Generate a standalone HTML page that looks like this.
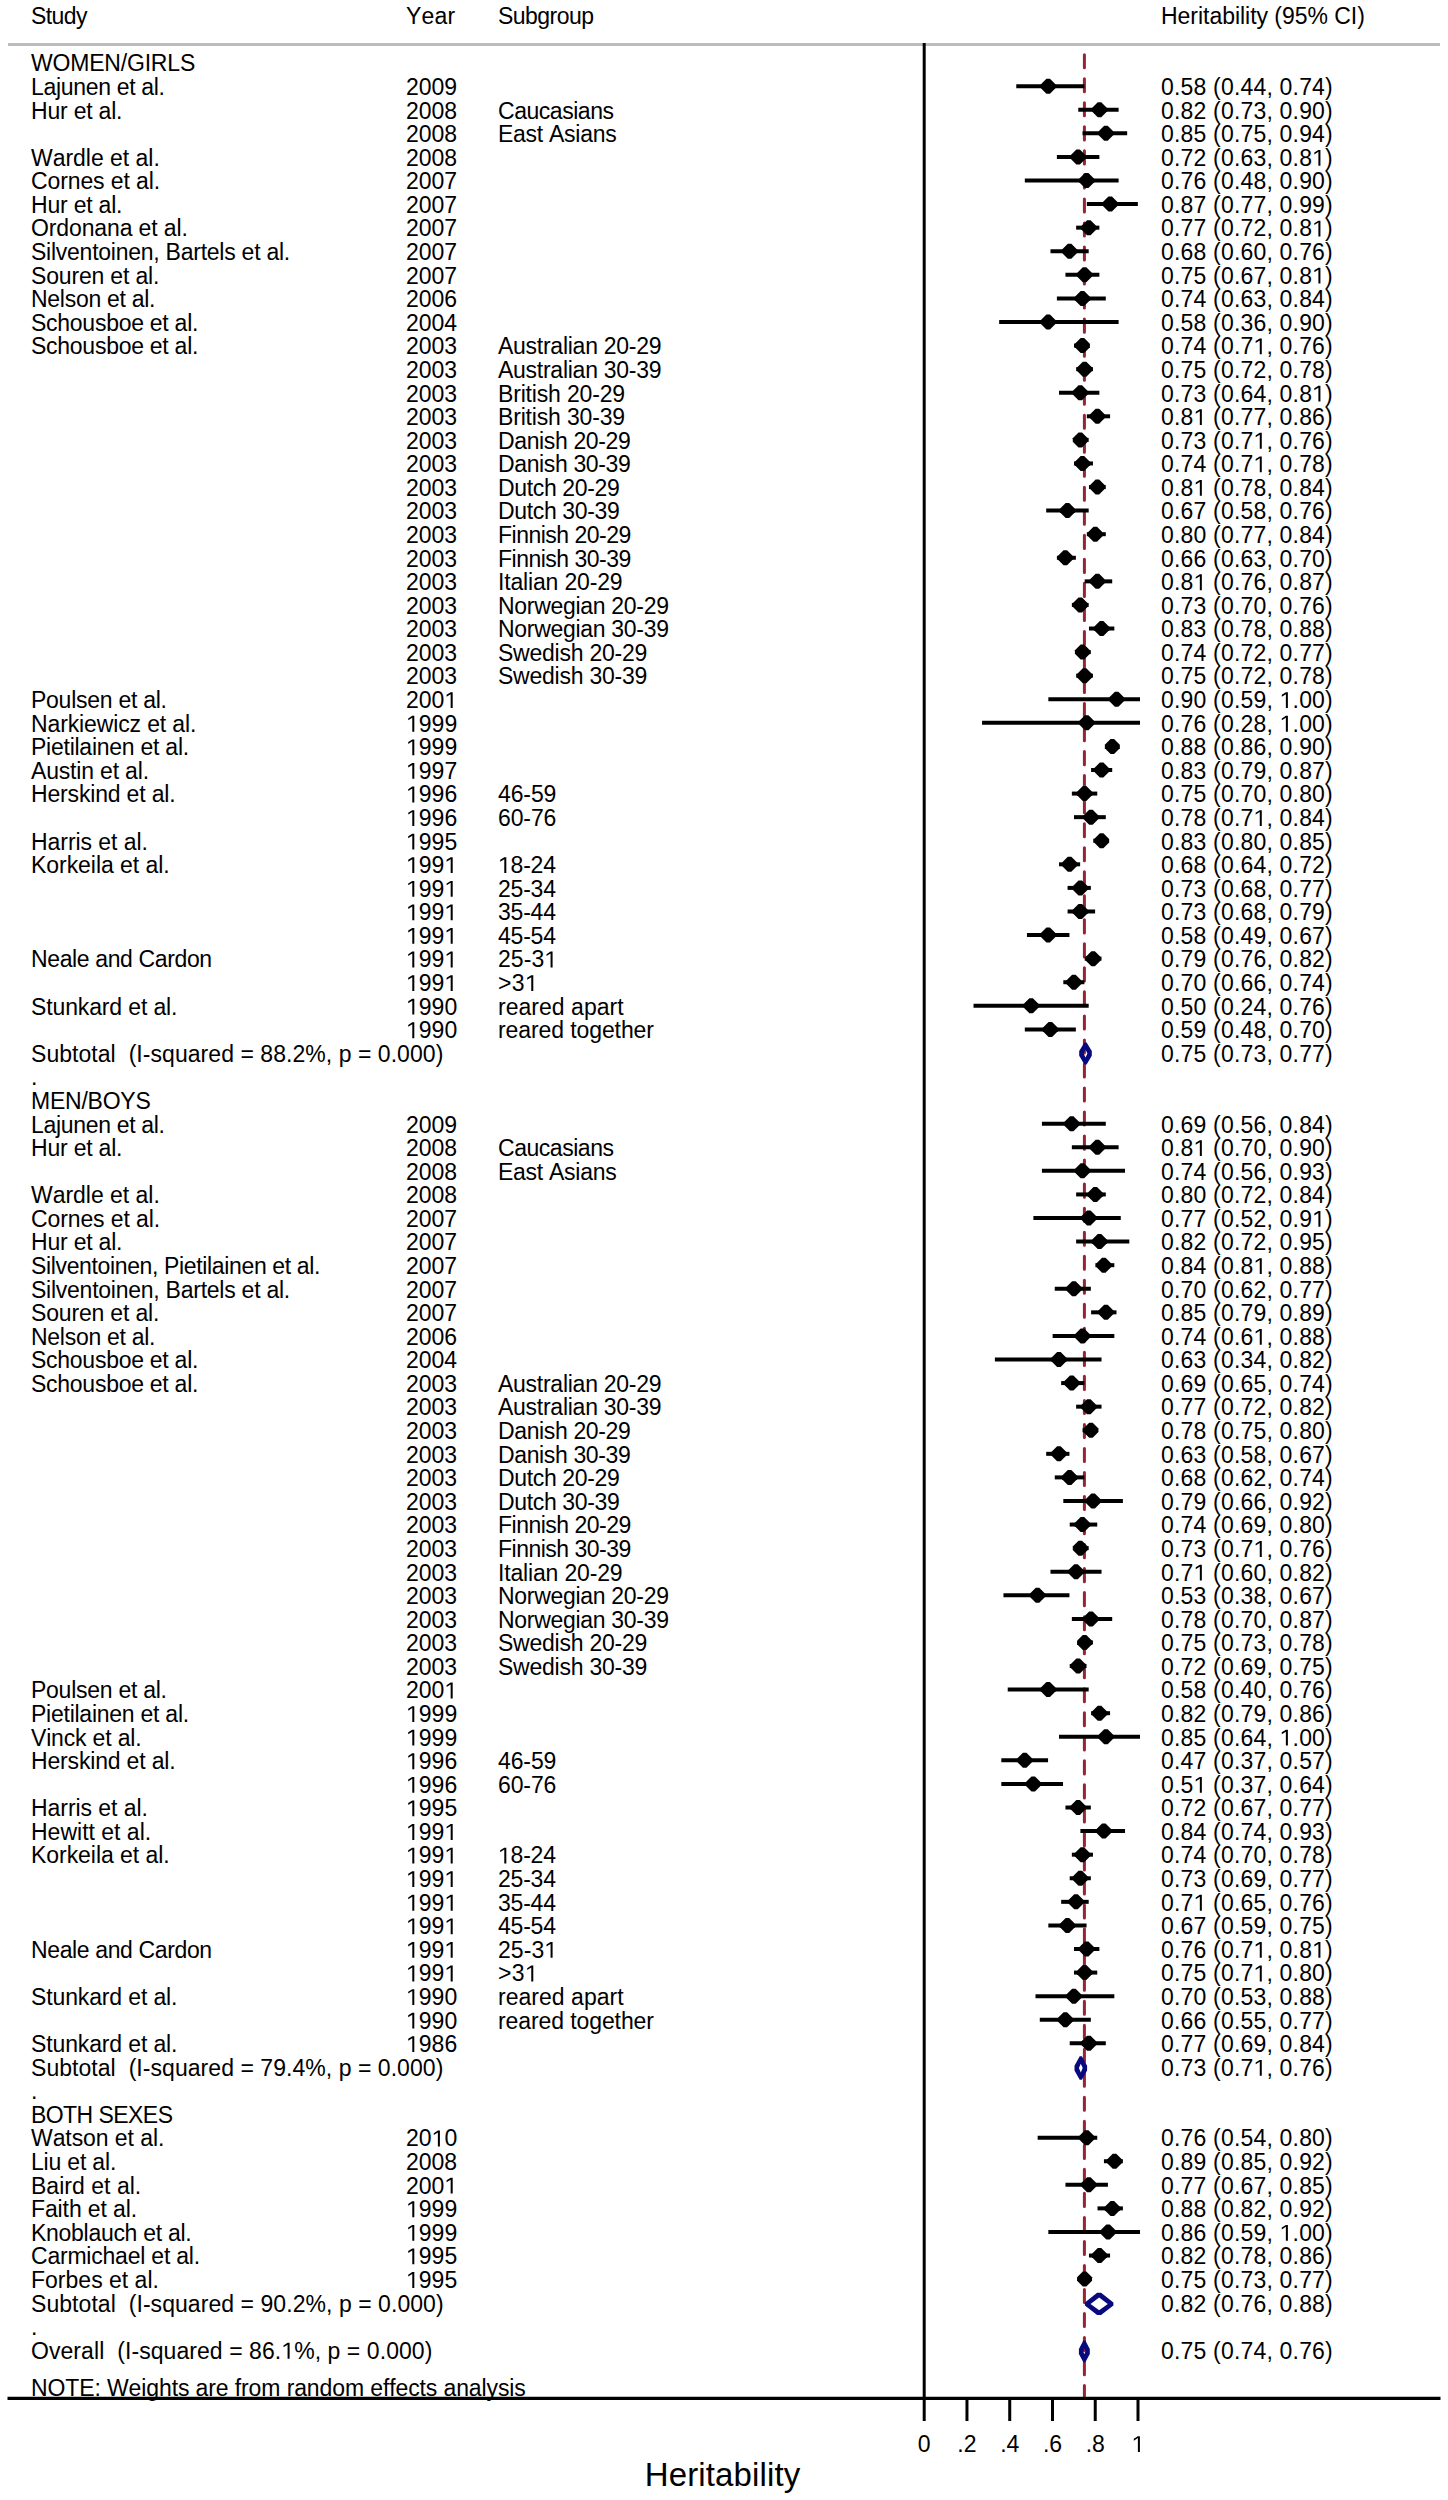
<!DOCTYPE html>
<html><head><meta charset="utf-8"><title>Forest plot</title>
<style>html,body{margin:0;padding:0;background:#fff;} body{width:1448px;height:2500px;overflow:hidden;font-family:"Liberation Sans",sans-serif;} svg{display:block;} .o{fill:transparent;}</style>
</head><body>
<svg width="1448" height="2500" viewBox="0 0 1448 2500">
<rect width="1448" height="2500" fill="#fff"/>
<line x1="8" y1="44.5" x2="1440" y2="44.5" stroke="#bcbcbc" stroke-width="3"/>
<line x1="924.2" y1="43" x2="924.2" y2="2398" stroke="#000" stroke-width="3"/>
<line x1="1084.4" y1="54.7" x2="1084.4" y2="2396" stroke="#952434" stroke-width="3" stroke-linecap="round" stroke-dasharray="13.1 10.93"/>
<g stroke="#000" stroke-width="4" stroke-linecap="square">
<line x1="1018.27" y1="86.18" x2="1082.41" y2="86.18"/>
<line x1="1080.27" y1="109.76" x2="1116.62" y2="109.76"/>
<line x1="1084.55" y1="133.34" x2="1125.17" y2="133.34"/>
<line x1="1058.89" y1="156.92" x2="1097.38" y2="156.92"/>
<line x1="1026.82" y1="180.50" x2="1116.62" y2="180.50"/>
<line x1="1088.83" y1="204.08" x2="1135.86" y2="204.08"/>
<line x1="1078.14" y1="227.66" x2="1097.38" y2="227.66"/>
<line x1="1052.48" y1="251.24" x2="1086.69" y2="251.24"/>
<line x1="1067.45" y1="274.82" x2="1097.38" y2="274.82"/>
<line x1="1058.89" y1="298.40" x2="1103.79" y2="298.40"/>
<line x1="1001.17" y1="321.98" x2="1116.62" y2="321.98"/>
<line x1="1076.00" y1="345.56" x2="1086.69" y2="345.56"/>
<line x1="1078.14" y1="369.14" x2="1090.96" y2="369.14"/>
<line x1="1061.03" y1="392.72" x2="1097.38" y2="392.72"/>
<line x1="1088.83" y1="416.30" x2="1108.07" y2="416.30"/>
<line x1="1076.00" y1="439.88" x2="1086.69" y2="439.88"/>
<line x1="1076.00" y1="463.46" x2="1090.96" y2="463.46"/>
<line x1="1090.96" y1="487.04" x2="1103.79" y2="487.04"/>
<line x1="1048.20" y1="510.62" x2="1086.69" y2="510.62"/>
<line x1="1088.83" y1="534.20" x2="1103.79" y2="534.20"/>
<line x1="1058.89" y1="557.78" x2="1073.86" y2="557.78"/>
<line x1="1086.69" y1="581.36" x2="1110.21" y2="581.36"/>
<line x1="1073.86" y1="604.94" x2="1086.69" y2="604.94"/>
<line x1="1090.96" y1="628.52" x2="1112.34" y2="628.52"/>
<line x1="1078.14" y1="652.10" x2="1088.83" y2="652.10"/>
<line x1="1078.14" y1="675.68" x2="1090.96" y2="675.68"/>
<line x1="1050.34" y1="699.26" x2="1138.00" y2="699.26"/>
<line x1="984.06" y1="722.84" x2="1138.00" y2="722.84"/>
<line x1="1108.07" y1="746.42" x2="1116.62" y2="746.42"/>
<line x1="1093.10" y1="770.00" x2="1110.21" y2="770.00"/>
<line x1="1073.86" y1="793.58" x2="1095.24" y2="793.58"/>
<line x1="1076.00" y1="817.16" x2="1103.79" y2="817.16"/>
<line x1="1095.24" y1="840.74" x2="1105.93" y2="840.74"/>
<line x1="1061.03" y1="864.32" x2="1078.14" y2="864.32"/>
<line x1="1069.58" y1="887.90" x2="1088.83" y2="887.90"/>
<line x1="1069.58" y1="911.48" x2="1093.10" y2="911.48"/>
<line x1="1028.96" y1="935.06" x2="1067.45" y2="935.06"/>
<line x1="1086.69" y1="958.64" x2="1099.52" y2="958.64"/>
<line x1="1065.31" y1="982.22" x2="1082.41" y2="982.22"/>
<line x1="975.51" y1="1005.80" x2="1086.69" y2="1005.80"/>
<line x1="1026.82" y1="1029.38" x2="1073.86" y2="1029.38"/>
<line x1="1043.93" y1="1123.70" x2="1103.79" y2="1123.70"/>
<line x1="1073.86" y1="1147.28" x2="1116.62" y2="1147.28"/>
<line x1="1043.93" y1="1170.86" x2="1123.03" y2="1170.86"/>
<line x1="1078.14" y1="1194.44" x2="1103.79" y2="1194.44"/>
<line x1="1035.38" y1="1218.02" x2="1118.76" y2="1218.02"/>
<line x1="1078.14" y1="1241.60" x2="1127.31" y2="1241.60"/>
<line x1="1097.38" y1="1265.18" x2="1112.34" y2="1265.18"/>
<line x1="1056.76" y1="1288.76" x2="1088.83" y2="1288.76"/>
<line x1="1093.10" y1="1312.34" x2="1114.48" y2="1312.34"/>
<line x1="1054.62" y1="1335.92" x2="1112.34" y2="1335.92"/>
<line x1="996.89" y1="1359.50" x2="1099.52" y2="1359.50"/>
<line x1="1063.17" y1="1383.08" x2="1082.41" y2="1383.08"/>
<line x1="1078.14" y1="1406.66" x2="1099.52" y2="1406.66"/>
<line x1="1084.55" y1="1430.24" x2="1095.24" y2="1430.24"/>
<line x1="1048.20" y1="1453.82" x2="1067.45" y2="1453.82"/>
<line x1="1056.76" y1="1477.40" x2="1082.41" y2="1477.40"/>
<line x1="1065.31" y1="1500.98" x2="1120.90" y2="1500.98"/>
<line x1="1071.72" y1="1524.56" x2="1095.24" y2="1524.56"/>
<line x1="1076.00" y1="1548.14" x2="1086.69" y2="1548.14"/>
<line x1="1052.48" y1="1571.72" x2="1099.52" y2="1571.72"/>
<line x1="1005.44" y1="1595.30" x2="1067.45" y2="1595.30"/>
<line x1="1073.86" y1="1618.88" x2="1110.21" y2="1618.88"/>
<line x1="1080.27" y1="1642.46" x2="1090.96" y2="1642.46"/>
<line x1="1071.72" y1="1666.04" x2="1084.55" y2="1666.04"/>
<line x1="1009.72" y1="1689.62" x2="1086.69" y2="1689.62"/>
<line x1="1093.10" y1="1713.20" x2="1108.07" y2="1713.20"/>
<line x1="1061.03" y1="1736.78" x2="1138.00" y2="1736.78"/>
<line x1="1003.31" y1="1760.36" x2="1046.07" y2="1760.36"/>
<line x1="1003.31" y1="1783.94" x2="1061.03" y2="1783.94"/>
<line x1="1067.45" y1="1807.52" x2="1088.83" y2="1807.52"/>
<line x1="1082.41" y1="1831.10" x2="1123.03" y2="1831.10"/>
<line x1="1073.86" y1="1854.68" x2="1090.96" y2="1854.68"/>
<line x1="1071.72" y1="1878.26" x2="1088.83" y2="1878.26"/>
<line x1="1063.17" y1="1901.84" x2="1086.69" y2="1901.84"/>
<line x1="1050.34" y1="1925.42" x2="1084.55" y2="1925.42"/>
<line x1="1076.00" y1="1949.00" x2="1097.38" y2="1949.00"/>
<line x1="1076.00" y1="1972.58" x2="1095.24" y2="1972.58"/>
<line x1="1037.51" y1="1996.16" x2="1112.34" y2="1996.16"/>
<line x1="1041.79" y1="2019.74" x2="1088.83" y2="2019.74"/>
<line x1="1071.72" y1="2043.32" x2="1103.79" y2="2043.32"/>
<line x1="1039.65" y1="2137.64" x2="1095.24" y2="2137.64"/>
<line x1="1105.93" y1="2161.22" x2="1120.90" y2="2161.22"/>
<line x1="1067.45" y1="2184.80" x2="1105.93" y2="2184.80"/>
<line x1="1099.52" y1="2208.38" x2="1120.90" y2="2208.38"/>
<line x1="1050.34" y1="2231.96" x2="1138.00" y2="2231.96"/>
<line x1="1090.96" y1="2255.54" x2="1108.07" y2="2255.54"/>
<line x1="1080.27" y1="2279.12" x2="1088.83" y2="2279.12"/>
</g>
<g fill="#000">
<polygon points="1046.45,78.68 1049.95,78.68 1055.70,84.43 1055.70,87.93 1049.95,93.68 1046.45,93.68 1040.70,87.93 1040.70,84.43"/>
<polygon points="1097.77,102.26 1101.27,102.26 1107.02,108.01 1107.02,111.51 1101.27,117.26 1097.77,117.26 1092.02,111.51 1092.02,108.01"/>
<polygon points="1104.18,125.84 1107.68,125.84 1113.43,131.59 1113.43,135.09 1107.68,140.84 1104.18,140.84 1098.43,135.09 1098.43,131.59"/>
<polygon points="1076.39,149.42 1079.89,149.42 1085.64,155.17 1085.64,158.67 1079.89,164.42 1076.39,164.42 1070.64,158.67 1070.64,155.17"/>
<polygon points="1084.94,173.00 1088.44,173.00 1094.19,178.75 1094.19,182.25 1088.44,188.00 1084.94,188.00 1079.19,182.25 1079.19,178.75"/>
<polygon points="1108.46,196.58 1111.96,196.58 1117.71,202.33 1117.71,205.83 1111.96,211.58 1108.46,211.58 1102.71,205.83 1102.71,202.33"/>
<polygon points="1087.08,220.16 1090.58,220.16 1096.33,225.91 1096.33,229.41 1090.58,235.16 1087.08,235.16 1081.33,229.41 1081.33,225.91"/>
<polygon points="1067.83,243.74 1071.33,243.74 1077.08,249.49 1077.08,252.99 1071.33,258.74 1067.83,258.74 1062.08,252.99 1062.08,249.49"/>
<polygon points="1082.80,267.32 1086.30,267.32 1092.05,273.07 1092.05,276.57 1086.30,282.32 1082.80,282.32 1077.05,276.57 1077.05,273.07"/>
<polygon points="1080.66,290.90 1084.16,290.90 1089.91,296.65 1089.91,300.15 1084.16,305.90 1080.66,305.90 1074.91,300.15 1074.91,296.65"/>
<polygon points="1046.45,314.48 1049.95,314.48 1055.70,320.23 1055.70,323.73 1049.95,329.48 1046.45,329.48 1040.70,323.73 1040.70,320.23"/>
<polygon points="1080.66,338.06 1084.16,338.06 1089.91,343.81 1089.91,347.31 1084.16,353.06 1080.66,353.06 1074.91,347.31 1074.91,343.81"/>
<polygon points="1082.80,361.64 1086.30,361.64 1092.05,367.39 1092.05,370.89 1086.30,376.64 1082.80,376.64 1077.05,370.89 1077.05,367.39"/>
<polygon points="1078.52,385.22 1082.02,385.22 1087.77,390.97 1087.77,394.47 1082.02,400.22 1078.52,400.22 1072.77,394.47 1072.77,390.97"/>
<polygon points="1095.63,408.80 1099.13,408.80 1104.88,414.55 1104.88,418.05 1099.13,423.80 1095.63,423.80 1089.88,418.05 1089.88,414.55"/>
<polygon points="1078.52,432.38 1082.02,432.38 1087.77,438.13 1087.77,441.63 1082.02,447.38 1078.52,447.38 1072.77,441.63 1072.77,438.13"/>
<polygon points="1080.66,455.96 1084.16,455.96 1089.91,461.71 1089.91,465.21 1084.16,470.96 1080.66,470.96 1074.91,465.21 1074.91,461.71"/>
<polygon points="1095.63,479.54 1099.13,479.54 1104.88,485.29 1104.88,488.79 1099.13,494.54 1095.63,494.54 1089.88,488.79 1089.88,485.29"/>
<polygon points="1065.70,503.12 1069.20,503.12 1074.95,508.87 1074.95,512.37 1069.20,518.12 1065.70,518.12 1059.95,512.37 1059.95,508.87"/>
<polygon points="1093.49,526.70 1096.99,526.70 1102.74,532.45 1102.74,535.95 1096.99,541.70 1093.49,541.70 1087.74,535.95 1087.74,532.45"/>
<polygon points="1063.56,550.28 1067.06,550.28 1072.81,556.03 1072.81,559.53 1067.06,565.28 1063.56,565.28 1057.81,559.53 1057.81,556.03"/>
<polygon points="1095.63,573.86 1099.13,573.86 1104.88,579.61 1104.88,583.11 1099.13,588.86 1095.63,588.86 1089.88,583.11 1089.88,579.61"/>
<polygon points="1078.52,597.44 1082.02,597.44 1087.77,603.19 1087.77,606.69 1082.02,612.44 1078.52,612.44 1072.77,606.69 1072.77,603.19"/>
<polygon points="1099.90,621.02 1103.40,621.02 1109.15,626.77 1109.15,630.27 1103.40,636.02 1099.90,636.02 1094.15,630.27 1094.15,626.77"/>
<polygon points="1080.66,644.60 1084.16,644.60 1089.91,650.35 1089.91,653.85 1084.16,659.60 1080.66,659.60 1074.91,653.85 1074.91,650.35"/>
<polygon points="1082.80,668.18 1086.30,668.18 1092.05,673.93 1092.05,677.43 1086.30,683.18 1082.80,683.18 1077.05,677.43 1077.05,673.93"/>
<polygon points="1114.87,691.76 1118.37,691.76 1124.12,697.51 1124.12,701.01 1118.37,706.76 1114.87,706.76 1109.12,701.01 1109.12,697.51"/>
<polygon points="1084.94,715.34 1088.44,715.34 1094.19,721.09 1094.19,724.59 1088.44,730.34 1084.94,730.34 1079.19,724.59 1079.19,721.09"/>
<polygon points="1110.59,738.92 1114.09,738.92 1119.84,744.67 1119.84,748.17 1114.09,753.92 1110.59,753.92 1104.84,748.17 1104.84,744.67"/>
<polygon points="1099.90,762.50 1103.40,762.50 1109.15,768.25 1109.15,771.75 1103.40,777.50 1099.90,777.50 1094.15,771.75 1094.15,768.25"/>
<polygon points="1082.80,786.08 1086.30,786.08 1092.05,791.83 1092.05,795.33 1086.30,801.08 1082.80,801.08 1077.05,795.33 1077.05,791.83"/>
<polygon points="1089.21,809.66 1092.71,809.66 1098.46,815.41 1098.46,818.91 1092.71,824.66 1089.21,824.66 1083.46,818.91 1083.46,815.41"/>
<polygon points="1099.90,833.24 1103.40,833.24 1109.15,838.99 1109.15,842.49 1103.40,848.24 1099.90,848.24 1094.15,842.49 1094.15,838.99"/>
<polygon points="1067.83,856.82 1071.33,856.82 1077.08,862.57 1077.08,866.07 1071.33,871.82 1067.83,871.82 1062.08,866.07 1062.08,862.57"/>
<polygon points="1078.52,880.40 1082.02,880.40 1087.77,886.15 1087.77,889.65 1082.02,895.40 1078.52,895.40 1072.77,889.65 1072.77,886.15"/>
<polygon points="1078.52,903.98 1082.02,903.98 1087.77,909.73 1087.77,913.23 1082.02,918.98 1078.52,918.98 1072.77,913.23 1072.77,909.73"/>
<polygon points="1046.45,927.56 1049.95,927.56 1055.70,933.31 1055.70,936.81 1049.95,942.56 1046.45,942.56 1040.70,936.81 1040.70,933.31"/>
<polygon points="1091.35,951.14 1094.85,951.14 1100.60,956.89 1100.60,960.39 1094.85,966.14 1091.35,966.14 1085.60,960.39 1085.60,956.89"/>
<polygon points="1072.11,974.72 1075.61,974.72 1081.36,980.47 1081.36,983.97 1075.61,989.72 1072.11,989.72 1066.36,983.97 1066.36,980.47"/>
<polygon points="1029.35,998.30 1032.85,998.30 1038.60,1004.05 1038.60,1007.55 1032.85,1013.30 1029.35,1013.30 1023.60,1007.55 1023.60,1004.05"/>
<polygon points="1048.59,1021.88 1052.09,1021.88 1057.84,1027.63 1057.84,1031.13 1052.09,1036.88 1048.59,1036.88 1042.84,1031.13 1042.84,1027.63"/>
<polygon points="1069.97,1116.20 1073.47,1116.20 1079.22,1121.95 1079.22,1125.45 1073.47,1131.20 1069.97,1131.20 1064.22,1125.45 1064.22,1121.95"/>
<polygon points="1095.63,1139.78 1099.13,1139.78 1104.88,1145.53 1104.88,1149.03 1099.13,1154.78 1095.63,1154.78 1089.88,1149.03 1089.88,1145.53"/>
<polygon points="1080.66,1163.36 1084.16,1163.36 1089.91,1169.11 1089.91,1172.61 1084.16,1178.36 1080.66,1178.36 1074.91,1172.61 1074.91,1169.11"/>
<polygon points="1093.49,1186.94 1096.99,1186.94 1102.74,1192.69 1102.74,1196.19 1096.99,1201.94 1093.49,1201.94 1087.74,1196.19 1087.74,1192.69"/>
<polygon points="1087.08,1210.52 1090.58,1210.52 1096.33,1216.27 1096.33,1219.77 1090.58,1225.52 1087.08,1225.52 1081.33,1219.77 1081.33,1216.27"/>
<polygon points="1097.77,1234.10 1101.27,1234.10 1107.02,1239.85 1107.02,1243.35 1101.27,1249.10 1097.77,1249.10 1092.02,1243.35 1092.02,1239.85"/>
<polygon points="1102.04,1257.68 1105.54,1257.68 1111.29,1263.43 1111.29,1266.93 1105.54,1272.68 1102.04,1272.68 1096.29,1266.93 1096.29,1263.43"/>
<polygon points="1072.11,1281.26 1075.61,1281.26 1081.36,1287.01 1081.36,1290.51 1075.61,1296.26 1072.11,1296.26 1066.36,1290.51 1066.36,1287.01"/>
<polygon points="1104.18,1304.84 1107.68,1304.84 1113.43,1310.59 1113.43,1314.09 1107.68,1319.84 1104.18,1319.84 1098.43,1314.09 1098.43,1310.59"/>
<polygon points="1080.66,1328.42 1084.16,1328.42 1089.91,1334.17 1089.91,1337.67 1084.16,1343.42 1080.66,1343.42 1074.91,1337.67 1074.91,1334.17"/>
<polygon points="1057.14,1352.00 1060.64,1352.00 1066.39,1357.75 1066.39,1361.25 1060.64,1367.00 1057.14,1367.00 1051.39,1361.25 1051.39,1357.75"/>
<polygon points="1069.97,1375.58 1073.47,1375.58 1079.22,1381.33 1079.22,1384.83 1073.47,1390.58 1069.97,1390.58 1064.22,1384.83 1064.22,1381.33"/>
<polygon points="1087.08,1399.16 1090.58,1399.16 1096.33,1404.91 1096.33,1408.41 1090.58,1414.16 1087.08,1414.16 1081.33,1408.41 1081.33,1404.91"/>
<polygon points="1089.21,1422.74 1092.71,1422.74 1098.46,1428.49 1098.46,1431.99 1092.71,1437.74 1089.21,1437.74 1083.46,1431.99 1083.46,1428.49"/>
<polygon points="1057.14,1446.32 1060.64,1446.32 1066.39,1452.07 1066.39,1455.57 1060.64,1461.32 1057.14,1461.32 1051.39,1455.57 1051.39,1452.07"/>
<polygon points="1067.83,1469.90 1071.33,1469.90 1077.08,1475.65 1077.08,1479.15 1071.33,1484.90 1067.83,1484.90 1062.08,1479.15 1062.08,1475.65"/>
<polygon points="1091.35,1493.48 1094.85,1493.48 1100.60,1499.23 1100.60,1502.73 1094.85,1508.48 1091.35,1508.48 1085.60,1502.73 1085.60,1499.23"/>
<polygon points="1080.66,1517.06 1084.16,1517.06 1089.91,1522.81 1089.91,1526.31 1084.16,1532.06 1080.66,1532.06 1074.91,1526.31 1074.91,1522.81"/>
<polygon points="1078.52,1540.64 1082.02,1540.64 1087.77,1546.39 1087.77,1549.89 1082.02,1555.64 1078.52,1555.64 1072.77,1549.89 1072.77,1546.39"/>
<polygon points="1074.25,1564.22 1077.75,1564.22 1083.50,1569.97 1083.50,1573.47 1077.75,1579.22 1074.25,1579.22 1068.50,1573.47 1068.50,1569.97"/>
<polygon points="1035.76,1587.80 1039.26,1587.80 1045.01,1593.55 1045.01,1597.05 1039.26,1602.80 1035.76,1602.80 1030.01,1597.05 1030.01,1593.55"/>
<polygon points="1089.21,1611.38 1092.71,1611.38 1098.46,1617.13 1098.46,1620.63 1092.71,1626.38 1089.21,1626.38 1083.46,1620.63 1083.46,1617.13"/>
<polygon points="1082.80,1634.96 1086.30,1634.96 1092.05,1640.71 1092.05,1644.21 1086.30,1649.96 1082.80,1649.96 1077.05,1644.21 1077.05,1640.71"/>
<polygon points="1076.39,1658.54 1079.89,1658.54 1085.64,1664.29 1085.64,1667.79 1079.89,1673.54 1076.39,1673.54 1070.64,1667.79 1070.64,1664.29"/>
<polygon points="1046.45,1682.12 1049.95,1682.12 1055.70,1687.87 1055.70,1691.37 1049.95,1697.12 1046.45,1697.12 1040.70,1691.37 1040.70,1687.87"/>
<polygon points="1097.77,1705.70 1101.27,1705.70 1107.02,1711.45 1107.02,1714.95 1101.27,1720.70 1097.77,1720.70 1092.02,1714.95 1092.02,1711.45"/>
<polygon points="1104.18,1729.28 1107.68,1729.28 1113.43,1735.03 1113.43,1738.53 1107.68,1744.28 1104.18,1744.28 1098.43,1738.53 1098.43,1735.03"/>
<polygon points="1022.94,1752.86 1026.44,1752.86 1032.19,1758.61 1032.19,1762.11 1026.44,1767.86 1022.94,1767.86 1017.19,1762.11 1017.19,1758.61"/>
<polygon points="1031.49,1776.44 1034.99,1776.44 1040.74,1782.19 1040.74,1785.69 1034.99,1791.44 1031.49,1791.44 1025.74,1785.69 1025.74,1782.19"/>
<polygon points="1076.39,1800.02 1079.89,1800.02 1085.64,1805.77 1085.64,1809.27 1079.89,1815.02 1076.39,1815.02 1070.64,1809.27 1070.64,1805.77"/>
<polygon points="1102.04,1823.60 1105.54,1823.60 1111.29,1829.35 1111.29,1832.85 1105.54,1838.60 1102.04,1838.60 1096.29,1832.85 1096.29,1829.35"/>
<polygon points="1080.66,1847.18 1084.16,1847.18 1089.91,1852.93 1089.91,1856.43 1084.16,1862.18 1080.66,1862.18 1074.91,1856.43 1074.91,1852.93"/>
<polygon points="1078.52,1870.76 1082.02,1870.76 1087.77,1876.51 1087.77,1880.01 1082.02,1885.76 1078.52,1885.76 1072.77,1880.01 1072.77,1876.51"/>
<polygon points="1074.25,1894.34 1077.75,1894.34 1083.50,1900.09 1083.50,1903.59 1077.75,1909.34 1074.25,1909.34 1068.50,1903.59 1068.50,1900.09"/>
<polygon points="1065.70,1917.92 1069.20,1917.92 1074.95,1923.67 1074.95,1927.17 1069.20,1932.92 1065.70,1932.92 1059.95,1927.17 1059.95,1923.67"/>
<polygon points="1084.94,1941.50 1088.44,1941.50 1094.19,1947.25 1094.19,1950.75 1088.44,1956.50 1084.94,1956.50 1079.19,1950.75 1079.19,1947.25"/>
<polygon points="1082.80,1965.08 1086.30,1965.08 1092.05,1970.83 1092.05,1974.33 1086.30,1980.08 1082.80,1980.08 1077.05,1974.33 1077.05,1970.83"/>
<polygon points="1072.11,1988.66 1075.61,1988.66 1081.36,1994.41 1081.36,1997.91 1075.61,2003.66 1072.11,2003.66 1066.36,1997.91 1066.36,1994.41"/>
<polygon points="1063.56,2012.24 1067.06,2012.24 1072.81,2017.99 1072.81,2021.49 1067.06,2027.24 1063.56,2027.24 1057.81,2021.49 1057.81,2017.99"/>
<polygon points="1087.08,2035.82 1090.58,2035.82 1096.33,2041.57 1096.33,2045.07 1090.58,2050.82 1087.08,2050.82 1081.33,2045.07 1081.33,2041.57"/>
<polygon points="1084.94,2130.14 1088.44,2130.14 1094.19,2135.89 1094.19,2139.39 1088.44,2145.14 1084.94,2145.14 1079.19,2139.39 1079.19,2135.89"/>
<polygon points="1112.73,2153.72 1116.23,2153.72 1121.98,2159.47 1121.98,2162.97 1116.23,2168.72 1112.73,2168.72 1106.98,2162.97 1106.98,2159.47"/>
<polygon points="1087.08,2177.30 1090.58,2177.30 1096.33,2183.05 1096.33,2186.55 1090.58,2192.30 1087.08,2192.30 1081.33,2186.55 1081.33,2183.05"/>
<polygon points="1110.59,2200.88 1114.09,2200.88 1119.84,2206.63 1119.84,2210.13 1114.09,2215.88 1110.59,2215.88 1104.84,2210.13 1104.84,2206.63"/>
<polygon points="1106.32,2224.46 1109.82,2224.46 1115.57,2230.21 1115.57,2233.71 1109.82,2239.46 1106.32,2239.46 1100.57,2233.71 1100.57,2230.21"/>
<polygon points="1097.77,2248.04 1101.27,2248.04 1107.02,2253.79 1107.02,2257.29 1101.27,2263.04 1097.77,2263.04 1092.02,2257.29 1092.02,2253.79"/>
<polygon points="1082.80,2271.62 1086.30,2271.62 1092.05,2277.37 1092.05,2280.87 1086.30,2286.62 1082.80,2286.62 1077.05,2280.87 1077.05,2277.37"/>
</g>
<g fill="#08087f" fill-rule="evenodd">
<path d="M1084.40,1042.40 L1086.60,1042.40 L1091.80,1051.05 L1091.80,1055.75 L1086.60,1064.40 L1084.40,1064.40 L1079.20,1055.75 L1079.20,1051.05Z M1083.62,1053.40 L1085.50,1049.42 L1087.38,1053.40 L1085.50,1057.38Z"/>
<path d="M1079.70,2056.30 L1081.90,2056.30 L1087.10,2065.70 L1087.10,2070.40 L1081.90,2079.80 L1079.70,2079.80 L1074.50,2070.40 L1074.50,2065.70Z M1078.89,2068.05 L1080.80,2063.66 L1082.71,2068.05 L1080.80,2072.44Z"/>
<path d="M1097.10,2292.80 L1101.10,2292.80 L1113.40,2302.40 L1113.40,2305.40 L1101.10,2315.00 L1097.10,2315.00 L1084.90,2305.40 L1084.90,2302.40Z M1090.53,2303.90 L1099.15,2297.51 L1107.77,2303.90 L1099.15,2310.29Z"/>
<path d="M1083.35,2340.60 L1085.35,2340.60 L1089.80,2348.95 L1089.80,2353.95 L1085.35,2362.30 L1083.35,2362.30 L1078.90,2353.95 L1078.90,2348.95Z M1083.25,2351.45 L1084.35,2348.57 L1085.45,2351.45 L1084.35,2354.33Z"/>
</g>
<line x1="7.5" y1="2398.3" x2="1440.5" y2="2398.3" stroke="#000" stroke-width="3.3"/>
<g stroke="#000" stroke-width="3">
<line x1="924.20" y1="2398" x2="924.20" y2="2421"/>
<line x1="966.96" y1="2398" x2="966.96" y2="2421"/>
<line x1="1009.72" y1="2398" x2="1009.72" y2="2421"/>
<line x1="1052.48" y1="2398" x2="1052.48" y2="2421"/>
<line x1="1095.24" y1="2398" x2="1095.24" y2="2421"/>
<line x1="1138.00" y1="2398" x2="1138.00" y2="2421"/>
</g>
<g font-family="Liberation Sans" font-size="23" fill="#000" xml:space="preserve" style="font-kerning:none">
<text id="t0" x="31" y="23.80" textLength="56.58" lengthAdjust="spacing">Study</text>
<text id="t1" x="406" y="23.80" textLength="49.25" lengthAdjust="spacing">Year</text>
<text id="t2" x="498" y="23.80" textLength="95.96" lengthAdjust="spacing">Subgroup</text>
<text id="t3" x="1161" y="23.80" textLength="203.81" lengthAdjust="spacing">Heritability (95% CI)</text>
<text id="t4" x="31" y="71.40" textLength="164.25" lengthAdjust="spacing">WOMEN/GIRLS</text>
<text id="t5" x="31" y="94.98" textLength="134.00" lengthAdjust="spacing">Lajunen et al.</text>
<text id="t6" x="406" y="94.98">2009</text>
<text id="t7" x="1161" y="94.98" textLength="171.76" lengthAdjust="spacing">0.58 (0.44, 0.74)</text>
<text id="t8" x="31" y="118.56" textLength="91.46" lengthAdjust="spacing">Hur et al.</text>
<text id="t9" x="406" y="118.56">2008</text>
<text id="t10" x="498" y="118.56" textLength="115.98" lengthAdjust="spacing">Caucasians</text>
<text id="t11" x="1161" y="118.56" textLength="171.76" lengthAdjust="spacing">0.82 (0.73, 0.90)</text>
<text id="t12" x="406" y="142.14">2008</text>
<text id="t13" x="498" y="142.14" textLength="118.70" lengthAdjust="spacing">East Asians</text>
<text id="t14" x="1161" y="142.14" textLength="171.76" lengthAdjust="spacing">0.85 (0.75, 0.94)</text>
<text id="t15" x="31" y="165.72" textLength="128.80" lengthAdjust="spacing">Wardle et al.</text>
<text id="t16" x="406" y="165.72">2008</text>
<text id="t17" x="1161" y="165.72" textLength="171.76" lengthAdjust="spacing">0.72 (0.63, 0.8<tspan class="o">1</tspan>)</text>
<text id="t18" x="31" y="189.30" textLength="129.02" lengthAdjust="spacing">Cornes et al.</text>
<text id="t19" x="406" y="189.30">2007</text>
<text id="t20" x="1161" y="189.30" textLength="171.76" lengthAdjust="spacing">0.76 (0.48, 0.90)</text>
<text id="t21" x="31" y="212.88" textLength="91.46" lengthAdjust="spacing">Hur et al.</text>
<text id="t22" x="406" y="212.88">2007</text>
<text id="t23" x="1161" y="212.88" textLength="171.76" lengthAdjust="spacing">0.87 (0.77, 0.99)</text>
<text id="t24" x="31" y="236.46" textLength="156.83" lengthAdjust="spacing">Ordonana et al.</text>
<text id="t25" x="406" y="236.46">2007</text>
<text id="t26" x="1161" y="236.46" textLength="171.76" lengthAdjust="spacing">0.77 (0.72, 0.8<tspan class="o">1</tspan>)</text>
<text id="t27" x="31" y="260.04" textLength="259.20" lengthAdjust="spacing">Silventoinen, Bartels et al.</text>
<text id="t28" x="406" y="260.04">2007</text>
<text id="t29" x="1161" y="260.04" textLength="171.76" lengthAdjust="spacing">0.68 (0.60, 0.76)</text>
<text id="t30" x="31" y="283.62" textLength="128.36" lengthAdjust="spacing">Souren et al.</text>
<text id="t31" x="406" y="283.62">2007</text>
<text id="t32" x="1161" y="283.62" textLength="171.76" lengthAdjust="spacing">0.75 (0.67, 0.8<tspan class="o">1</tspan>)</text>
<text id="t33" x="31" y="307.20" textLength="124.41" lengthAdjust="spacing">Nelson et al.</text>
<text id="t34" x="406" y="307.20">2006</text>
<text id="t35" x="1161" y="307.20" textLength="171.76" lengthAdjust="spacing">0.74 (0.63, 0.84)</text>
<text id="t36" x="31" y="330.78" textLength="167.40" lengthAdjust="spacing">Schousboe et al.</text>
<text id="t37" x="406" y="330.78">2004</text>
<text id="t38" x="1161" y="330.78" textLength="171.76" lengthAdjust="spacing">0.58 (0.36, 0.90)</text>
<text id="t39" x="31" y="354.36" textLength="167.40" lengthAdjust="spacing">Schousboe et al.</text>
<text id="t40" x="406" y="354.36">2003</text>
<text id="t41" x="498" y="354.36" textLength="163.56" lengthAdjust="spacing">Australian 20-29</text>
<text id="t42" x="1161" y="354.36" textLength="171.76" lengthAdjust="spacing">0.74 (0.7<tspan class="o">1</tspan>, 0.76)</text>
<text id="t43" x="406" y="377.94">2003</text>
<text id="t44" x="498" y="377.94" textLength="163.56" lengthAdjust="spacing">Australian 30-39</text>
<text id="t45" x="1161" y="377.94" textLength="171.76" lengthAdjust="spacing">0.75 (0.72, 0.78)</text>
<text id="t46" x="406" y="401.52">2003</text>
<text id="t47" x="498" y="401.52" textLength="127.05" lengthAdjust="spacing">British 20-29</text>
<text id="t48" x="1161" y="401.52" textLength="171.76" lengthAdjust="spacing">0.73 (0.64, 0.8<tspan class="o">1</tspan>)</text>
<text id="t49" x="406" y="425.10">2003</text>
<text id="t50" x="498" y="425.10" textLength="127.05" lengthAdjust="spacing">British 30-39</text>
<text id="t51" x="1161" y="425.10" textLength="171.76" lengthAdjust="spacing">0.8<tspan class="o">1</tspan> (0.77, 0.86)</text>
<text id="t52" x="406" y="448.68">2003</text>
<text id="t53" x="498" y="448.68" textLength="132.75" lengthAdjust="spacing">Danish 20-29</text>
<text id="t54" x="1161" y="448.68" textLength="171.76" lengthAdjust="spacing">0.73 (0.7<tspan class="o">1</tspan>, 0.76)</text>
<text id="t55" x="406" y="472.26">2003</text>
<text id="t56" x="498" y="472.26" textLength="132.75" lengthAdjust="spacing">Danish 30-39</text>
<text id="t57" x="1161" y="472.26" textLength="171.76" lengthAdjust="spacing">0.74 (0.7<tspan class="o">1</tspan>, 0.78)</text>
<text id="t58" x="406" y="495.84">2003</text>
<text id="t59" x="498" y="495.84" textLength="121.79" lengthAdjust="spacing">Dutch 20-29</text>
<text id="t60" x="1161" y="495.84" textLength="171.76" lengthAdjust="spacing">0.8<tspan class="o">1</tspan> (0.78, 0.84)</text>
<text id="t61" x="406" y="519.42">2003</text>
<text id="t62" x="498" y="519.42" textLength="121.79" lengthAdjust="spacing">Dutch 30-39</text>
<text id="t63" x="1161" y="519.42" textLength="171.76" lengthAdjust="spacing">0.67 (0.58, 0.76)</text>
<text id="t64" x="406" y="543.00">2003</text>
<text id="t65" x="498" y="543.00" textLength="133.22" lengthAdjust="spacing">Finnish 20-29</text>
<text id="t66" x="1161" y="543.00" textLength="171.76" lengthAdjust="spacing">0.80 (0.77, 0.84)</text>
<text id="t67" x="406" y="566.58">2003</text>
<text id="t68" x="498" y="566.58" textLength="133.22" lengthAdjust="spacing">Finnish 30-39</text>
<text id="t69" x="1161" y="566.58" textLength="171.76" lengthAdjust="spacing">0.66 (0.63, 0.70)</text>
<text id="t70" x="406" y="590.16">2003</text>
<text id="t71" x="498" y="590.16" textLength="124.63" lengthAdjust="spacing">Italian 20-29</text>
<text id="t72" x="1161" y="590.16" textLength="171.76" lengthAdjust="spacing">0.8<tspan class="o">1</tspan> (0.76, 0.87)</text>
<text id="t73" x="406" y="613.74">2003</text>
<text id="t74" x="498" y="613.74" textLength="170.97" lengthAdjust="spacing">Norwegian 20-29</text>
<text id="t75" x="1161" y="613.74" textLength="171.76" lengthAdjust="spacing">0.73 (0.70, 0.76)</text>
<text id="t76" x="406" y="637.32">2003</text>
<text id="t77" x="498" y="637.32" textLength="170.97" lengthAdjust="spacing">Norwegian 30-39</text>
<text id="t78" x="1161" y="637.32" textLength="171.76" lengthAdjust="spacing">0.83 (0.78, 0.88)</text>
<text id="t79" x="406" y="660.90">2003</text>
<text id="t80" x="498" y="660.90" textLength="149.36" lengthAdjust="spacing">Swedish 20-29</text>
<text id="t81" x="1161" y="660.90" textLength="171.76" lengthAdjust="spacing">0.74 (0.72, 0.77)</text>
<text id="t82" x="406" y="684.48">2003</text>
<text id="t83" x="498" y="684.48" textLength="149.36" lengthAdjust="spacing">Swedish 30-39</text>
<text id="t84" x="1161" y="684.48" textLength="171.76" lengthAdjust="spacing">0.75 (0.72, 0.78)</text>
<text id="t85" x="31" y="708.06" textLength="135.96" lengthAdjust="spacing">Poulsen et al.</text>
<text id="t86" x="406" y="708.06">200<tspan class="o">1</tspan></text>
<text id="t87" x="1161" y="708.06" textLength="171.76" lengthAdjust="spacing">0.90 (0.59, <tspan class="o">1</tspan>.00)</text>
<text id="t88" x="31" y="731.64" textLength="165.40" lengthAdjust="spacing">Narkiewicz et al.</text>
<text id="t89" x="406" y="731.64"><tspan class="o">1</tspan>999</text>
<text id="t90" x="1161" y="731.64" textLength="171.76" lengthAdjust="spacing">0.76 (0.28, <tspan class="o">1</tspan>.00)</text>
<text id="t91" x="31" y="755.22" textLength="158.16" lengthAdjust="spacing">Pietilainen et al.</text>
<text id="t92" x="406" y="755.22"><tspan class="o">1</tspan>999</text>
<text id="t93" x="1161" y="755.22" textLength="171.76" lengthAdjust="spacing">0.88 (0.86, 0.90)</text>
<text id="t94" x="31" y="778.80" textLength="118.02" lengthAdjust="spacing">Austin et al.</text>
<text id="t95" x="406" y="778.80"><tspan class="o">1</tspan>997</text>
<text id="t96" x="1161" y="778.80" textLength="171.76" lengthAdjust="spacing">0.83 (0.79, 0.87)</text>
<text id="t97" x="31" y="802.38" textLength="144.63" lengthAdjust="spacing">Herskind et al.</text>
<text id="t98" x="406" y="802.38"><tspan class="o">1</tspan>996</text>
<text id="t99" x="498" y="802.38" textLength="58.41" lengthAdjust="spacing">46-59</text>
<text id="t100" x="1161" y="802.38" textLength="171.76" lengthAdjust="spacing">0.75 (0.70, 0.80)</text>
<text id="t101" x="406" y="825.96"><tspan class="o">1</tspan>996</text>
<text id="t102" x="498" y="825.96" textLength="58.41" lengthAdjust="spacing">60-76</text>
<text id="t103" x="1161" y="825.96" textLength="171.76" lengthAdjust="spacing">0.78 (0.7<tspan class="o">1</tspan>, 0.84)</text>
<text id="t104" x="31" y="849.54" textLength="116.96" lengthAdjust="spacing">Harris et al.</text>
<text id="t105" x="406" y="849.54"><tspan class="o">1</tspan>995</text>
<text id="t106" x="1161" y="849.54" textLength="171.76" lengthAdjust="spacing">0.83 (0.80, 0.85)</text>
<text id="t107" x="31" y="873.12" textLength="138.62" lengthAdjust="spacing">Korkeila et al.</text>
<text id="t108" x="406" y="873.12"><tspan class="o">1</tspan>99<tspan class="o">1</tspan></text>
<text id="t109" x="498" y="873.12" textLength="57.99" lengthAdjust="spacing"><tspan class="o">1</tspan>8-24</text>
<text id="t110" x="1161" y="873.12" textLength="171.76" lengthAdjust="spacing">0.68 (0.64, 0.72)</text>
<text id="t111" x="406" y="896.70"><tspan class="o">1</tspan>99<tspan class="o">1</tspan></text>
<text id="t112" x="498" y="896.70" textLength="57.99" lengthAdjust="spacing">25-34</text>
<text id="t113" x="1161" y="896.70" textLength="171.76" lengthAdjust="spacing">0.73 (0.68, 0.77)</text>
<text id="t114" x="406" y="920.28"><tspan class="o">1</tspan>99<tspan class="o">1</tspan></text>
<text id="t115" x="498" y="920.28" textLength="57.99" lengthAdjust="spacing">35-44</text>
<text id="t116" x="1161" y="920.28" textLength="171.76" lengthAdjust="spacing">0.73 (0.68, 0.79)</text>
<text id="t117" x="406" y="943.86"><tspan class="o">1</tspan>99<tspan class="o">1</tspan></text>
<text id="t118" x="498" y="943.86" textLength="57.99" lengthAdjust="spacing">45-54</text>
<text id="t119" x="1161" y="943.86" textLength="171.76" lengthAdjust="spacing">0.58 (0.49, 0.67)</text>
<text id="t120" x="31" y="967.44" textLength="181.13" lengthAdjust="spacing">Neale and Cardon</text>
<text id="t121" x="406" y="967.44"><tspan class="o">1</tspan>99<tspan class="o">1</tspan></text>
<text id="t122" x="498" y="967.44" textLength="59.08" lengthAdjust="spacing">25-3<tspan class="o">1</tspan></text>
<text id="t123" x="1161" y="967.44" textLength="171.76" lengthAdjust="spacing">0.79 (0.76, 0.82)</text>
<text id="t124" x="406" y="991.02"><tspan class="o">1</tspan>99<tspan class="o">1</tspan></text>
<text id="t125" x="498" y="991.02" textLength="39.77" lengthAdjust="spacing">&gt;3<tspan class="o">1</tspan></text>
<text id="t126" x="1161" y="991.02" textLength="171.76" lengthAdjust="spacing">0.70 (0.66, 0.74)</text>
<text id="t127" x="31" y="1014.60" textLength="146.50" lengthAdjust="spacing">Stunkard et al.</text>
<text id="t128" x="406" y="1014.60"><tspan class="o">1</tspan>990</text>
<text id="t129" x="498" y="1014.60" textLength="125.62" lengthAdjust="spacing">reared apart</text>
<text id="t130" x="1161" y="1014.60" textLength="171.76" lengthAdjust="spacing">0.50 (0.24, 0.76)</text>
<text id="t131" x="406" y="1038.18"><tspan class="o">1</tspan>990</text>
<text id="t132" x="498" y="1038.18" textLength="155.96" lengthAdjust="spacing">reared together</text>
<text id="t133" x="1161" y="1038.18" textLength="171.76" lengthAdjust="spacing">0.59 (0.48, 0.70)</text>
<text id="t134" x="31" y="1061.76" textLength="412.31" lengthAdjust="spacing">Subtotal  (I-squared = 88.2%, p = 0.000)</text>
<text id="t135" x="1161" y="1061.76" textLength="171.76" lengthAdjust="spacing">0.75 (0.73, 0.77)</text>
<text id="t136" x="31" y="1085.34">.</text>
<text id="t137" x="31" y="1108.92" textLength="119.82" lengthAdjust="spacing">MEN/BOYS</text>
<text id="t138" x="31" y="1132.50" textLength="134.00" lengthAdjust="spacing">Lajunen et al.</text>
<text id="t139" x="406" y="1132.50">2009</text>
<text id="t140" x="1161" y="1132.50" textLength="171.76" lengthAdjust="spacing">0.69 (0.56, 0.84)</text>
<text id="t141" x="31" y="1156.08" textLength="91.46" lengthAdjust="spacing">Hur et al.</text>
<text id="t142" x="406" y="1156.08">2008</text>
<text id="t143" x="498" y="1156.08" textLength="115.98" lengthAdjust="spacing">Caucasians</text>
<text id="t144" x="1161" y="1156.08" textLength="171.76" lengthAdjust="spacing">0.8<tspan class="o">1</tspan> (0.70, 0.90)</text>
<text id="t145" x="406" y="1179.66">2008</text>
<text id="t146" x="498" y="1179.66" textLength="118.70" lengthAdjust="spacing">East Asians</text>
<text id="t147" x="1161" y="1179.66" textLength="171.76" lengthAdjust="spacing">0.74 (0.56, 0.93)</text>
<text id="t148" x="31" y="1203.24" textLength="128.80" lengthAdjust="spacing">Wardle et al.</text>
<text id="t149" x="406" y="1203.24">2008</text>
<text id="t150" x="1161" y="1203.24" textLength="171.76" lengthAdjust="spacing">0.80 (0.72, 0.84)</text>
<text id="t151" x="31" y="1226.82" textLength="129.02" lengthAdjust="spacing">Cornes et al.</text>
<text id="t152" x="406" y="1226.82">2007</text>
<text id="t153" x="1161" y="1226.82" textLength="171.76" lengthAdjust="spacing">0.77 (0.52, 0.9<tspan class="o">1</tspan>)</text>
<text id="t154" x="31" y="1250.40" textLength="91.46" lengthAdjust="spacing">Hur et al.</text>
<text id="t155" x="406" y="1250.40">2007</text>
<text id="t156" x="1161" y="1250.40" textLength="171.76" lengthAdjust="spacing">0.82 (0.72, 0.95)</text>
<text id="t157" x="31" y="1273.98" textLength="289.43" lengthAdjust="spacing">Silventoinen, Pietilainen et al.</text>
<text id="t158" x="406" y="1273.98">2007</text>
<text id="t159" x="1161" y="1273.98" textLength="171.76" lengthAdjust="spacing">0.84 (0.8<tspan class="o">1</tspan>, 0.88)</text>
<text id="t160" x="31" y="1297.56" textLength="259.20" lengthAdjust="spacing">Silventoinen, Bartels et al.</text>
<text id="t161" x="406" y="1297.56">2007</text>
<text id="t162" x="1161" y="1297.56" textLength="171.76" lengthAdjust="spacing">0.70 (0.62, 0.77)</text>
<text id="t163" x="31" y="1321.14" textLength="128.36" lengthAdjust="spacing">Souren et al.</text>
<text id="t164" x="406" y="1321.14">2007</text>
<text id="t165" x="1161" y="1321.14" textLength="171.76" lengthAdjust="spacing">0.85 (0.79, 0.89)</text>
<text id="t166" x="31" y="1344.72" textLength="124.41" lengthAdjust="spacing">Nelson et al.</text>
<text id="t167" x="406" y="1344.72">2006</text>
<text id="t168" x="1161" y="1344.72" textLength="171.76" lengthAdjust="spacing">0.74 (0.6<tspan class="o">1</tspan>, 0.88)</text>
<text id="t169" x="31" y="1368.30" textLength="167.40" lengthAdjust="spacing">Schousboe et al.</text>
<text id="t170" x="406" y="1368.30">2004</text>
<text id="t171" x="1161" y="1368.30" textLength="171.76" lengthAdjust="spacing">0.63 (0.34, 0.82)</text>
<text id="t172" x="31" y="1391.88" textLength="167.40" lengthAdjust="spacing">Schousboe et al.</text>
<text id="t173" x="406" y="1391.88">2003</text>
<text id="t174" x="498" y="1391.88" textLength="163.56" lengthAdjust="spacing">Australian 20-29</text>
<text id="t175" x="1161" y="1391.88" textLength="171.76" lengthAdjust="spacing">0.69 (0.65, 0.74)</text>
<text id="t176" x="406" y="1415.46">2003</text>
<text id="t177" x="498" y="1415.46" textLength="163.56" lengthAdjust="spacing">Australian 30-39</text>
<text id="t178" x="1161" y="1415.46" textLength="171.76" lengthAdjust="spacing">0.77 (0.72, 0.82)</text>
<text id="t179" x="406" y="1439.04">2003</text>
<text id="t180" x="498" y="1439.04" textLength="132.75" lengthAdjust="spacing">Danish 20-29</text>
<text id="t181" x="1161" y="1439.04" textLength="171.76" lengthAdjust="spacing">0.78 (0.75, 0.80)</text>
<text id="t182" x="406" y="1462.62">2003</text>
<text id="t183" x="498" y="1462.62" textLength="132.75" lengthAdjust="spacing">Danish 30-39</text>
<text id="t184" x="1161" y="1462.62" textLength="171.76" lengthAdjust="spacing">0.63 (0.58, 0.67)</text>
<text id="t185" x="406" y="1486.20">2003</text>
<text id="t186" x="498" y="1486.20" textLength="121.79" lengthAdjust="spacing">Dutch 20-29</text>
<text id="t187" x="1161" y="1486.20" textLength="171.76" lengthAdjust="spacing">0.68 (0.62, 0.74)</text>
<text id="t188" x="406" y="1509.78">2003</text>
<text id="t189" x="498" y="1509.78" textLength="121.79" lengthAdjust="spacing">Dutch 30-39</text>
<text id="t190" x="1161" y="1509.78" textLength="171.76" lengthAdjust="spacing">0.79 (0.66, 0.92)</text>
<text id="t191" x="406" y="1533.36">2003</text>
<text id="t192" x="498" y="1533.36" textLength="133.22" lengthAdjust="spacing">Finnish 20-29</text>
<text id="t193" x="1161" y="1533.36" textLength="171.76" lengthAdjust="spacing">0.74 (0.69, 0.80)</text>
<text id="t194" x="406" y="1556.94">2003</text>
<text id="t195" x="498" y="1556.94" textLength="133.22" lengthAdjust="spacing">Finnish 30-39</text>
<text id="t196" x="1161" y="1556.94" textLength="171.76" lengthAdjust="spacing">0.73 (0.7<tspan class="o">1</tspan>, 0.76)</text>
<text id="t197" x="406" y="1580.52">2003</text>
<text id="t198" x="498" y="1580.52" textLength="124.63" lengthAdjust="spacing">Italian 20-29</text>
<text id="t199" x="1161" y="1580.52" textLength="171.76" lengthAdjust="spacing">0.7<tspan class="o">1</tspan> (0.60, 0.82)</text>
<text id="t200" x="406" y="1604.10">2003</text>
<text id="t201" x="498" y="1604.10" textLength="170.97" lengthAdjust="spacing">Norwegian 20-29</text>
<text id="t202" x="1161" y="1604.10" textLength="171.76" lengthAdjust="spacing">0.53 (0.38, 0.67)</text>
<text id="t203" x="406" y="1627.68">2003</text>
<text id="t204" x="498" y="1627.68" textLength="170.97" lengthAdjust="spacing">Norwegian 30-39</text>
<text id="t205" x="1161" y="1627.68" textLength="171.76" lengthAdjust="spacing">0.78 (0.70, 0.87)</text>
<text id="t206" x="406" y="1651.26">2003</text>
<text id="t207" x="498" y="1651.26" textLength="149.36" lengthAdjust="spacing">Swedish 20-29</text>
<text id="t208" x="1161" y="1651.26" textLength="171.76" lengthAdjust="spacing">0.75 (0.73, 0.78)</text>
<text id="t209" x="406" y="1674.84">2003</text>
<text id="t210" x="498" y="1674.84" textLength="149.36" lengthAdjust="spacing">Swedish 30-39</text>
<text id="t211" x="1161" y="1674.84" textLength="171.76" lengthAdjust="spacing">0.72 (0.69, 0.75)</text>
<text id="t212" x="31" y="1698.42" textLength="135.96" lengthAdjust="spacing">Poulsen et al.</text>
<text id="t213" x="406" y="1698.42">200<tspan class="o">1</tspan></text>
<text id="t214" x="1161" y="1698.42" textLength="171.76" lengthAdjust="spacing">0.58 (0.40, 0.76)</text>
<text id="t215" x="31" y="1722.00" textLength="158.16" lengthAdjust="spacing">Pietilainen et al.</text>
<text id="t216" x="406" y="1722.00"><tspan class="o">1</tspan>999</text>
<text id="t217" x="1161" y="1722.00" textLength="171.76" lengthAdjust="spacing">0.82 (0.79, 0.86)</text>
<text id="t218" x="31" y="1745.58" textLength="110.62" lengthAdjust="spacing">Vinck et al.</text>
<text id="t219" x="406" y="1745.58"><tspan class="o">1</tspan>999</text>
<text id="t220" x="1161" y="1745.58" textLength="171.76" lengthAdjust="spacing">0.85 (0.64, <tspan class="o">1</tspan>.00)</text>
<text id="t221" x="31" y="1769.16" textLength="144.63" lengthAdjust="spacing">Herskind et al.</text>
<text id="t222" x="406" y="1769.16"><tspan class="o">1</tspan>996</text>
<text id="t223" x="498" y="1769.16" textLength="58.41" lengthAdjust="spacing">46-59</text>
<text id="t224" x="1161" y="1769.16" textLength="171.76" lengthAdjust="spacing">0.47 (0.37, 0.57)</text>
<text id="t225" x="406" y="1792.74"><tspan class="o">1</tspan>996</text>
<text id="t226" x="498" y="1792.74" textLength="58.41" lengthAdjust="spacing">60-76</text>
<text id="t227" x="1161" y="1792.74" textLength="171.76" lengthAdjust="spacing">0.5<tspan class="o">1</tspan> (0.37, 0.64)</text>
<text id="t228" x="31" y="1816.32" textLength="116.96" lengthAdjust="spacing">Harris et al.</text>
<text id="t229" x="406" y="1816.32"><tspan class="o">1</tspan>995</text>
<text id="t230" x="1161" y="1816.32" textLength="171.76" lengthAdjust="spacing">0.72 (0.67, 0.77)</text>
<text id="t231" x="31" y="1839.90" textLength="120.16" lengthAdjust="spacing">Hewitt et al.</text>
<text id="t232" x="406" y="1839.90"><tspan class="o">1</tspan>99<tspan class="o">1</tspan></text>
<text id="t233" x="1161" y="1839.90" textLength="171.76" lengthAdjust="spacing">0.84 (0.74, 0.93)</text>
<text id="t234" x="31" y="1863.48" textLength="138.62" lengthAdjust="spacing">Korkeila et al.</text>
<text id="t235" x="406" y="1863.48"><tspan class="o">1</tspan>99<tspan class="o">1</tspan></text>
<text id="t236" x="498" y="1863.48" textLength="57.99" lengthAdjust="spacing"><tspan class="o">1</tspan>8-24</text>
<text id="t237" x="1161" y="1863.48" textLength="171.76" lengthAdjust="spacing">0.74 (0.70, 0.78)</text>
<text id="t238" x="406" y="1887.06"><tspan class="o">1</tspan>99<tspan class="o">1</tspan></text>
<text id="t239" x="498" y="1887.06" textLength="57.99" lengthAdjust="spacing">25-34</text>
<text id="t240" x="1161" y="1887.06" textLength="171.76" lengthAdjust="spacing">0.73 (0.69, 0.77)</text>
<text id="t241" x="406" y="1910.64"><tspan class="o">1</tspan>99<tspan class="o">1</tspan></text>
<text id="t242" x="498" y="1910.64" textLength="57.99" lengthAdjust="spacing">35-44</text>
<text id="t243" x="1161" y="1910.64" textLength="171.76" lengthAdjust="spacing">0.7<tspan class="o">1</tspan> (0.65, 0.76)</text>
<text id="t244" x="406" y="1934.22"><tspan class="o">1</tspan>99<tspan class="o">1</tspan></text>
<text id="t245" x="498" y="1934.22" textLength="57.99" lengthAdjust="spacing">45-54</text>
<text id="t246" x="1161" y="1934.22" textLength="171.76" lengthAdjust="spacing">0.67 (0.59, 0.75)</text>
<text id="t247" x="31" y="1957.80" textLength="181.13" lengthAdjust="spacing">Neale and Cardon</text>
<text id="t248" x="406" y="1957.80"><tspan class="o">1</tspan>99<tspan class="o">1</tspan></text>
<text id="t249" x="498" y="1957.80" textLength="59.08" lengthAdjust="spacing">25-3<tspan class="o">1</tspan></text>
<text id="t250" x="1161" y="1957.80" textLength="171.76" lengthAdjust="spacing">0.76 (0.7<tspan class="o">1</tspan>, 0.8<tspan class="o">1</tspan>)</text>
<text id="t251" x="406" y="1981.38"><tspan class="o">1</tspan>99<tspan class="o">1</tspan></text>
<text id="t252" x="498" y="1981.38" textLength="39.77" lengthAdjust="spacing">&gt;3<tspan class="o">1</tspan></text>
<text id="t253" x="1161" y="1981.38" textLength="171.76" lengthAdjust="spacing">0.75 (0.7<tspan class="o">1</tspan>, 0.80)</text>
<text id="t254" x="31" y="2004.96" textLength="146.50" lengthAdjust="spacing">Stunkard et al.</text>
<text id="t255" x="406" y="2004.96"><tspan class="o">1</tspan>990</text>
<text id="t256" x="498" y="2004.96" textLength="125.62" lengthAdjust="spacing">reared apart</text>
<text id="t257" x="1161" y="2004.96" textLength="171.76" lengthAdjust="spacing">0.70 (0.53, 0.88)</text>
<text id="t258" x="406" y="2028.54"><tspan class="o">1</tspan>990</text>
<text id="t259" x="498" y="2028.54" textLength="155.96" lengthAdjust="spacing">reared together</text>
<text id="t260" x="1161" y="2028.54" textLength="171.76" lengthAdjust="spacing">0.66 (0.55, 0.77)</text>
<text id="t261" x="31" y="2052.12" textLength="146.50" lengthAdjust="spacing">Stunkard et al.</text>
<text id="t262" x="406" y="2052.12"><tspan class="o">1</tspan>986</text>
<text id="t263" x="1161" y="2052.12" textLength="171.76" lengthAdjust="spacing">0.77 (0.69, 0.84)</text>
<text id="t264" x="31" y="2075.70" textLength="412.31" lengthAdjust="spacing">Subtotal  (I-squared = 79.4%, p = 0.000)</text>
<text id="t265" x="1161" y="2075.70" textLength="171.76" lengthAdjust="spacing">0.73 (0.7<tspan class="o">1</tspan>, 0.76)</text>
<text id="t266" x="31" y="2099.28">.</text>
<text id="t267" x="31" y="2122.86" textLength="141.98" lengthAdjust="spacing">BOTH SEXES</text>
<text id="t268" x="31" y="2146.44" textLength="133.35" lengthAdjust="spacing">Watson et al.</text>
<text id="t269" x="406" y="2146.44">20<tspan class="o">1</tspan>0</text>
<text id="t270" x="1161" y="2146.44" textLength="171.76" lengthAdjust="spacing">0.76 (0.54, 0.80)</text>
<text id="t271" x="31" y="2170.02" textLength="85.29" lengthAdjust="spacing">Liu et al.</text>
<text id="t272" x="406" y="2170.02">2008</text>
<text id="t273" x="1161" y="2170.02" textLength="171.76" lengthAdjust="spacing">0.89 (0.85, 0.92)</text>
<text id="t274" x="31" y="2193.60" textLength="110.26" lengthAdjust="spacing">Baird et al.</text>
<text id="t275" x="406" y="2193.60">200<tspan class="o">1</tspan></text>
<text id="t276" x="1161" y="2193.60" textLength="171.76" lengthAdjust="spacing">0.77 (0.67, 0.85)</text>
<text id="t277" x="31" y="2217.18" textLength="106.10" lengthAdjust="spacing">Faith et al.</text>
<text id="t278" x="406" y="2217.18"><tspan class="o">1</tspan>999</text>
<text id="t279" x="1161" y="2217.18" textLength="171.76" lengthAdjust="spacing">0.88 (0.82, 0.92)</text>
<text id="t280" x="31" y="2240.76" textLength="160.61" lengthAdjust="spacing">Knoblauch et al.</text>
<text id="t281" x="406" y="2240.76"><tspan class="o">1</tspan>999</text>
<text id="t282" x="1161" y="2240.76" textLength="171.76" lengthAdjust="spacing">0.86 (0.59, <tspan class="o">1</tspan>.00)</text>
<text id="t283" x="31" y="2264.34" textLength="169.09" lengthAdjust="spacing">Carmichael et al.</text>
<text id="t284" x="406" y="2264.34"><tspan class="o">1</tspan>995</text>
<text id="t285" x="1161" y="2264.34" textLength="171.76" lengthAdjust="spacing">0.82 (0.78, 0.86)</text>
<text id="t286" x="31" y="2287.92" textLength="127.94" lengthAdjust="spacing">Forbes et al.</text>
<text id="t287" x="406" y="2287.92"><tspan class="o">1</tspan>995</text>
<text id="t288" x="1161" y="2287.92" textLength="171.76" lengthAdjust="spacing">0.75 (0.73, 0.77)</text>
<text id="t289" x="31" y="2311.50" textLength="412.61" lengthAdjust="spacing">Subtotal  (I-squared = 90.2%, p = 0.000)</text>
<text id="t290" x="1161" y="2311.50" textLength="171.76" lengthAdjust="spacing">0.82 (0.76, 0.88)</text>
<text id="t291" x="31" y="2335.08">.</text>
<text id="t292" x="31" y="2358.66" textLength="401.37" lengthAdjust="spacing">Overall  (I-squared = 86.<tspan class="o">1</tspan>%, p = 0.000)</text>
<text id="t293" x="1161" y="2358.66" textLength="171.76" lengthAdjust="spacing">0.75 (0.74, 0.76)</text>
<text id="t294" x="31" y="2395.50" textLength="494.79" lengthAdjust="spacing">NOTE: Weights are from random effects analysis</text>
<text id="k0" x="924.20" y="2452" text-anchor="middle">0</text>
<text id="k1" x="966.96" y="2452" text-anchor="middle">.2</text>
<text id="k2" x="1009.72" y="2452" text-anchor="middle">.4</text>
<text id="k3" x="1052.48" y="2452" text-anchor="middle">.6</text>
<text id="k4" x="1095.24" y="2452" text-anchor="middle">.8</text>
<text id="k5" x="1138.00" y="2452" text-anchor="middle"><tspan class="o">1</tspan></text>
</g>
<g fill="#000"><path d="M1318.40,165.72 L1318.40,151.83 L1314.32,154.38 L1314.32,152.47 L1318.40,149.90 L1320.42,149.90 L1320.42,165.72Z"/><path d="M1318.40,236.46 L1318.40,222.57 L1314.32,225.12 L1314.32,223.21 L1318.40,220.64 L1320.42,220.64 L1320.42,236.46Z"/><path d="M1318.40,283.62 L1318.40,269.73 L1314.32,272.28 L1314.32,270.37 L1318.40,267.80 L1320.42,267.80 L1320.42,283.62Z"/><path d="M1259.75,354.36 L1259.75,340.47 L1255.67,343.02 L1255.67,341.11 L1259.75,338.54 L1261.77,338.54 L1261.77,354.36Z"/><path d="M1318.40,401.52 L1318.40,387.63 L1314.32,390.18 L1314.32,388.27 L1318.40,385.70 L1320.42,385.70 L1320.42,401.52Z"/><path d="M1199.82,425.10 L1199.82,411.21 L1195.74,413.76 L1195.74,411.85 L1199.82,409.28 L1201.84,409.28 L1201.84,425.10Z"/><path d="M1259.75,448.68 L1259.75,434.79 L1255.67,437.34 L1255.67,435.43 L1259.75,432.86 L1261.77,432.86 L1261.77,448.68Z"/><path d="M1259.75,472.26 L1259.75,458.37 L1255.67,460.92 L1255.67,459.01 L1259.75,456.44 L1261.77,456.44 L1261.77,472.26Z"/><path d="M1199.82,495.84 L1199.82,481.95 L1195.74,484.50 L1195.74,482.59 L1199.82,480.02 L1201.84,480.02 L1201.84,495.84Z"/><path d="M1199.82,590.16 L1199.82,576.27 L1195.74,578.82 L1195.74,576.91 L1199.82,574.34 L1201.84,574.34 L1201.84,590.16Z"/><path d="M450.66,708.06 L450.66,694.17 L446.59,696.72 L446.59,694.81 L450.66,692.24 L452.69,692.24 L452.69,708.06Z"/><path d="M1285.87,708.06 L1285.87,694.17 L1281.79,696.72 L1281.79,694.81 L1285.87,692.24 L1287.89,692.24 L1287.89,708.06Z"/><path d="M412.29,731.64 L412.29,717.75 L408.21,720.30 L408.21,718.39 L412.29,715.82 L414.31,715.82 L414.31,731.64Z"/><path d="M1285.87,731.64 L1285.87,717.75 L1281.79,720.30 L1281.79,718.39 L1285.87,715.82 L1287.89,715.82 L1287.89,731.64Z"/><path d="M412.29,755.22 L412.29,741.33 L408.21,743.88 L408.21,741.97 L412.29,739.40 L414.31,739.40 L414.31,755.22Z"/><path d="M412.29,778.80 L412.29,764.91 L408.21,767.46 L408.21,765.55 L412.29,762.98 L414.31,762.98 L414.31,778.80Z"/><path d="M412.29,802.38 L412.29,788.49 L408.21,791.04 L408.21,789.13 L412.29,786.56 L414.31,786.56 L414.31,802.38Z"/><path d="M412.29,825.96 L412.29,812.07 L408.21,814.62 L408.21,812.71 L412.29,810.14 L414.31,810.14 L414.31,825.96Z"/><path d="M1259.75,825.96 L1259.75,812.07 L1255.67,814.62 L1255.67,812.71 L1259.75,810.14 L1261.77,810.14 L1261.77,825.96Z"/><path d="M412.29,849.54 L412.29,835.65 L408.21,838.20 L408.21,836.29 L412.29,833.72 L414.31,833.72 L414.31,849.54Z"/><path d="M412.29,873.12 L412.29,859.23 L408.21,861.78 L408.21,859.87 L412.29,857.30 L414.31,857.30 L414.31,873.12Z"/><path d="M450.68,873.12 L450.68,859.23 L446.60,861.78 L446.60,859.87 L450.68,857.30 L452.70,857.30 L452.70,873.12Z"/><path d="M504.29,873.12 L504.29,859.23 L500.21,861.78 L500.21,859.87 L504.29,857.30 L506.31,857.30 L506.31,873.12Z"/><path d="M412.29,896.70 L412.29,882.81 L408.21,885.36 L408.21,883.45 L412.29,880.88 L414.31,880.88 L414.31,896.70Z"/><path d="M450.68,896.70 L450.68,882.81 L446.60,885.36 L446.60,883.45 L450.68,880.88 L452.70,880.88 L452.70,896.70Z"/><path d="M412.29,920.28 L412.29,906.39 L408.21,908.94 L408.21,907.03 L412.29,904.46 L414.31,904.46 L414.31,920.28Z"/><path d="M450.68,920.28 L450.68,906.39 L446.60,908.94 L446.60,907.03 L450.68,904.46 L452.70,904.46 L452.70,920.28Z"/><path d="M412.29,943.86 L412.29,929.97 L408.21,932.52 L408.21,930.61 L412.29,928.04 L414.31,928.04 L414.31,943.86Z"/><path d="M450.68,943.86 L450.68,929.97 L446.60,932.52 L446.60,930.61 L450.68,928.04 L452.70,928.04 L452.70,943.86Z"/><path d="M412.29,967.44 L412.29,953.55 L408.21,956.10 L408.21,954.19 L412.29,951.62 L414.31,951.62 L414.31,967.44Z"/><path d="M450.68,967.44 L450.68,953.55 L446.60,956.10 L446.60,954.19 L450.68,951.62 L452.70,951.62 L452.70,967.44Z"/><path d="M550.57,967.44 L550.57,953.55 L546.50,956.10 L546.50,954.19 L550.57,951.62 L552.59,951.62 L552.59,967.44Z"/><path d="M412.29,991.02 L412.29,977.13 L408.21,979.68 L408.21,977.77 L412.29,975.20 L414.31,975.20 L414.31,991.02Z"/><path d="M450.68,991.02 L450.68,977.13 L446.60,979.68 L446.60,977.77 L450.68,975.20 L452.70,975.20 L452.70,991.02Z"/><path d="M531.26,991.02 L531.26,977.13 L527.19,979.68 L527.19,977.77 L531.26,975.20 L533.28,975.20 L533.28,991.02Z"/><path d="M412.29,1014.60 L412.29,1000.71 L408.21,1003.26 L408.21,1001.35 L412.29,998.78 L414.31,998.78 L414.31,1014.60Z"/><path d="M412.29,1038.18 L412.29,1024.29 L408.21,1026.84 L408.21,1024.93 L412.29,1022.36 L414.31,1022.36 L414.31,1038.18Z"/><path d="M1199.82,1156.08 L1199.82,1142.19 L1195.74,1144.74 L1195.74,1142.83 L1199.82,1140.26 L1201.84,1140.26 L1201.84,1156.08Z"/><path d="M1318.40,1226.82 L1318.40,1212.93 L1314.32,1215.48 L1314.32,1213.57 L1318.40,1211.00 L1320.42,1211.00 L1320.42,1226.82Z"/><path d="M1259.75,1273.98 L1259.75,1260.09 L1255.67,1262.64 L1255.67,1260.73 L1259.75,1258.16 L1261.77,1258.16 L1261.77,1273.98Z"/><path d="M1259.75,1344.72 L1259.75,1330.83 L1255.67,1333.38 L1255.67,1331.47 L1259.75,1328.90 L1261.77,1328.90 L1261.77,1344.72Z"/><path d="M1259.75,1556.94 L1259.75,1543.05 L1255.67,1545.60 L1255.67,1543.69 L1259.75,1541.12 L1261.77,1541.12 L1261.77,1556.94Z"/><path d="M1199.82,1580.52 L1199.82,1566.63 L1195.74,1569.18 L1195.74,1567.27 L1199.82,1564.70 L1201.84,1564.70 L1201.84,1580.52Z"/><path d="M450.66,1698.42 L450.66,1684.53 L446.59,1687.08 L446.59,1685.17 L450.66,1682.60 L452.69,1682.60 L452.69,1698.42Z"/><path d="M412.29,1722.00 L412.29,1708.11 L408.21,1710.66 L408.21,1708.75 L412.29,1706.18 L414.31,1706.18 L414.31,1722.00Z"/><path d="M412.29,1745.58 L412.29,1731.69 L408.21,1734.24 L408.21,1732.33 L412.29,1729.76 L414.31,1729.76 L414.31,1745.58Z"/><path d="M1285.87,1745.58 L1285.87,1731.69 L1281.79,1734.24 L1281.79,1732.33 L1285.87,1729.76 L1287.89,1729.76 L1287.89,1745.58Z"/><path d="M412.29,1769.16 L412.29,1755.27 L408.21,1757.82 L408.21,1755.91 L412.29,1753.34 L414.31,1753.34 L414.31,1769.16Z"/><path d="M412.29,1792.74 L412.29,1778.85 L408.21,1781.40 L408.21,1779.49 L412.29,1776.92 L414.31,1776.92 L414.31,1792.74Z"/><path d="M1199.82,1792.74 L1199.82,1778.85 L1195.74,1781.40 L1195.74,1779.49 L1199.82,1776.92 L1201.84,1776.92 L1201.84,1792.74Z"/><path d="M412.29,1816.32 L412.29,1802.43 L408.21,1804.98 L408.21,1803.07 L412.29,1800.50 L414.31,1800.50 L414.31,1816.32Z"/><path d="M412.29,1839.90 L412.29,1826.01 L408.21,1828.56 L408.21,1826.65 L412.29,1824.08 L414.31,1824.08 L414.31,1839.90Z"/><path d="M450.68,1839.90 L450.68,1826.01 L446.60,1828.56 L446.60,1826.65 L450.68,1824.08 L452.70,1824.08 L452.70,1839.90Z"/><path d="M412.29,1863.48 L412.29,1849.59 L408.21,1852.14 L408.21,1850.23 L412.29,1847.66 L414.31,1847.66 L414.31,1863.48Z"/><path d="M450.68,1863.48 L450.68,1849.59 L446.60,1852.14 L446.60,1850.23 L450.68,1847.66 L452.70,1847.66 L452.70,1863.48Z"/><path d="M504.29,1863.48 L504.29,1849.59 L500.21,1852.14 L500.21,1850.23 L504.29,1847.66 L506.31,1847.66 L506.31,1863.48Z"/><path d="M412.29,1887.06 L412.29,1873.17 L408.21,1875.72 L408.21,1873.81 L412.29,1871.24 L414.31,1871.24 L414.31,1887.06Z"/><path d="M450.68,1887.06 L450.68,1873.17 L446.60,1875.72 L446.60,1873.81 L450.68,1871.24 L452.70,1871.24 L452.70,1887.06Z"/><path d="M412.29,1910.64 L412.29,1896.75 L408.21,1899.30 L408.21,1897.39 L412.29,1894.82 L414.31,1894.82 L414.31,1910.64Z"/><path d="M450.68,1910.64 L450.68,1896.75 L446.60,1899.30 L446.60,1897.39 L450.68,1894.82 L452.70,1894.82 L452.70,1910.64Z"/><path d="M1199.82,1910.64 L1199.82,1896.75 L1195.74,1899.30 L1195.74,1897.39 L1199.82,1894.82 L1201.84,1894.82 L1201.84,1910.64Z"/><path d="M412.29,1934.22 L412.29,1920.33 L408.21,1922.88 L408.21,1920.97 L412.29,1918.40 L414.31,1918.40 L414.31,1934.22Z"/><path d="M450.68,1934.22 L450.68,1920.33 L446.60,1922.88 L446.60,1920.97 L450.68,1918.40 L452.70,1918.40 L452.70,1934.22Z"/><path d="M412.29,1957.80 L412.29,1943.91 L408.21,1946.46 L408.21,1944.55 L412.29,1941.98 L414.31,1941.98 L414.31,1957.80Z"/><path d="M450.68,1957.80 L450.68,1943.91 L446.60,1946.46 L446.60,1944.55 L450.68,1941.98 L452.70,1941.98 L452.70,1957.80Z"/><path d="M550.57,1957.80 L550.57,1943.91 L546.50,1946.46 L546.50,1944.55 L550.57,1941.98 L552.59,1941.98 L552.59,1957.80Z"/><path d="M1259.75,1957.80 L1259.75,1943.91 L1255.67,1946.46 L1255.67,1944.55 L1259.75,1941.98 L1261.77,1941.98 L1261.77,1957.80Z"/><path d="M1318.40,1957.80 L1318.40,1943.91 L1314.32,1946.46 L1314.32,1944.55 L1318.40,1941.98 L1320.42,1941.98 L1320.42,1957.80Z"/><path d="M412.29,1981.38 L412.29,1967.49 L408.21,1970.04 L408.21,1968.13 L412.29,1965.56 L414.31,1965.56 L414.31,1981.38Z"/><path d="M450.68,1981.38 L450.68,1967.49 L446.60,1970.04 L446.60,1968.13 L450.68,1965.56 L452.70,1965.56 L452.70,1981.38Z"/><path d="M531.26,1981.38 L531.26,1967.49 L527.19,1970.04 L527.19,1968.13 L531.26,1965.56 L533.28,1965.56 L533.28,1981.38Z"/><path d="M1259.75,1981.38 L1259.75,1967.49 L1255.67,1970.04 L1255.67,1968.13 L1259.75,1965.56 L1261.77,1965.56 L1261.77,1981.38Z"/><path d="M412.29,2004.96 L412.29,1991.07 L408.21,1993.62 L408.21,1991.71 L412.29,1989.14 L414.31,1989.14 L414.31,2004.96Z"/><path d="M412.29,2028.54 L412.29,2014.65 L408.21,2017.20 L408.21,2015.29 L412.29,2012.72 L414.31,2012.72 L414.31,2028.54Z"/><path d="M412.29,2052.12 L412.29,2038.23 L408.21,2040.78 L408.21,2038.87 L412.29,2036.30 L414.31,2036.30 L414.31,2052.12Z"/><path d="M1259.75,2075.70 L1259.75,2061.81 L1255.67,2064.36 L1255.67,2062.45 L1259.75,2059.88 L1261.77,2059.88 L1261.77,2075.70Z"/><path d="M437.88,2146.44 L437.88,2132.55 L433.81,2135.10 L433.81,2133.19 L437.88,2130.62 L439.90,2130.62 L439.90,2146.44Z"/><path d="M450.66,2193.60 L450.66,2179.71 L446.59,2182.26 L446.59,2180.35 L450.66,2177.78 L452.69,2177.78 L452.69,2193.60Z"/><path d="M412.29,2217.18 L412.29,2203.29 L408.21,2205.84 L408.21,2203.93 L412.29,2201.36 L414.31,2201.36 L414.31,2217.18Z"/><path d="M412.29,2240.76 L412.29,2226.87 L408.21,2229.42 L408.21,2227.51 L412.29,2224.94 L414.31,2224.94 L414.31,2240.76Z"/><path d="M1285.87,2240.76 L1285.87,2226.87 L1281.79,2229.42 L1281.79,2227.51 L1285.87,2224.94 L1287.89,2224.94 L1287.89,2240.76Z"/><path d="M412.29,2264.34 L412.29,2250.45 L408.21,2253.00 L408.21,2251.09 L412.29,2248.52 L414.31,2248.52 L414.31,2264.34Z"/><path d="M412.29,2287.92 L412.29,2274.03 L408.21,2276.58 L408.21,2274.67 L412.29,2272.10 L414.31,2272.10 L414.31,2287.92Z"/><path d="M287.58,2358.66 L287.58,2344.77 L283.50,2347.32 L283.50,2345.41 L287.58,2342.84 L289.60,2342.84 L289.60,2358.66Z"/><path d="M1137.89,2452.00 L1137.89,2438.11 L1133.81,2440.66 L1133.81,2438.75 L1137.89,2436.18 L1139.91,2436.18 L1139.91,2452.00Z"/></g>
<text x="644.7" y="2485.6" font-family="Liberation Sans" font-size="33" fill="#000" textLength="155.6" lengthAdjust="spacing" style="font-kerning:none">Heritability</text>
</svg>
</body></html>
